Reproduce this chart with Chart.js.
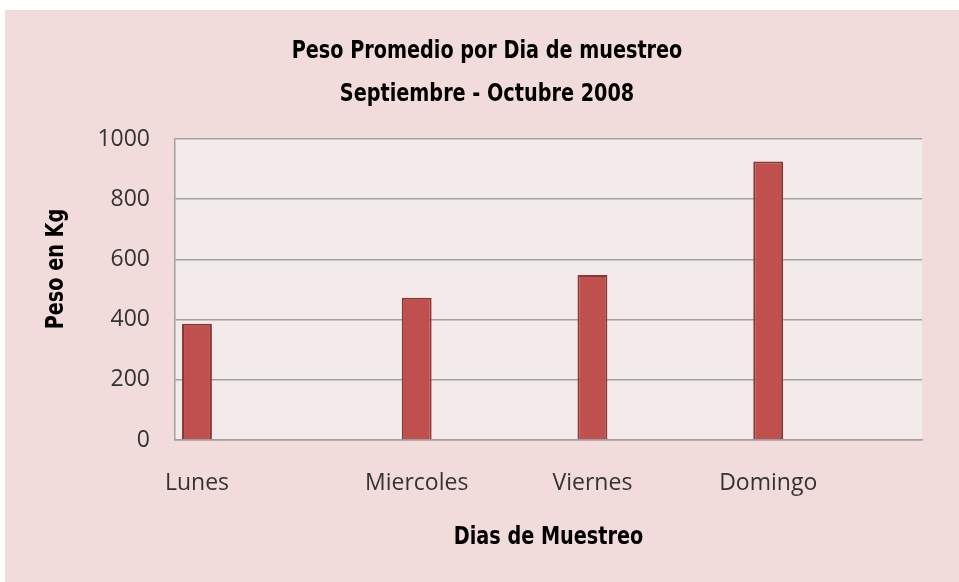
<!DOCTYPE html>
<html>
<head>
<meta charset="utf-8">
<script src="https://cdn.jsdelivr.net/npm/chart.js@4/dist/chart.umd.min.js"></script>
<style>
  html, body { margin: 0; padding: 0; background: #ffffff; }
  #wrap { position: absolute; left: 5px; top: 10px; width: 954px; height: 572px; background: #F2DCDB; }
  canvas { display: block; }
</style>
</head>
<body>
<div id="wrap"><canvas id="c" width="954" height="572"></canvas></div>
<script>
// ---- data ----
const categories = ["Lunes", "", "", "", "", "Miercoles", "", "", "", "Viernes", "", "", "", "Domingo", "", "", ""];
const pesos      = [386, null, null, null, null, 473, null, null, null, 548, null, null, null, 925, null, null, null];
const yTickValues = [0, 200, 400, 600, 800, 1000];
const titleLines = ["Peso Promedio por Dia de muestreo", "Septiembre - Octubre 2008"];
const xAxisTitle = "Dias de Muestreo";
const yAxisTitle = "Peso en Kg";

const condensed = "'DejaVu Sans Condensed', 'DejaVu Sans', sans-serif";
const bodyFont = "'Open Sans', 'Noto Sans', sans-serif";
const squeeze = 0.855;

const plotBg = {
  id: 'plotBg',
  beforeDraw(chart) {
    const {ctx, chartArea: a} = chart;
    ctx.save();
    ctx.fillStyle = '#F3EAEA';
    ctx.fillRect(a.left, a.top, a.right - a.left, a.bottom - a.top);
    ctx.restore();
  }
};

// narrow the bold titles horizontally, like the condensed face of the original
const narrowTitles = {
  id: 'narrowTitles',
  beforeDraw(chart) {
    const ctx = chart.ctx;
    const tb = chart.titleBlock;
    if (tb && !tb._narrowed) {
      const orig = tb.draw;
      tb.draw = function (area) {
        const cx = (this.left + this.right) / 2;
        ctx.save();
        ctx.translate(cx, 0); ctx.scale(squeeze, 1); ctx.translate(-cx, 0);
        orig.call(this, area);
        ctx.restore();
      };
      tb._narrowed = true;
    }
    const xs = chart.scales.x;
    if (xs && !xs._narrowed) {
      const origT = xs.drawTitle;
      xs.drawTitle = function () {
        const cx = (chart.chartArea.left + chart.chartArea.right) / 2;
        ctx.save();
        ctx.translate(cx, 0); ctx.scale(squeeze, 1); ctx.translate(-cx, 0);
        origT.call(this);
        ctx.restore();
      };
      xs._narrowed = true;
    }
  }
};

const yTitle = {
  id: 'yTitle',
  afterDraw(chart) {
    const {ctx} = chart;
    ctx.save();
    ctx.translate(51, 259);
    ctx.rotate(-Math.PI / 2);
    ctx.scale(squeeze, 1);
    ctx.font = "bold 25px " + condensed;
    ctx.fillStyle = '#000';
    ctx.textAlign = 'center';
    ctx.textBaseline = 'middle';
    ctx.fillText(yAxisTitle, 0, 0);
    ctx.restore();
  }
};

new Chart(document.getElementById('c'), {
  type: 'bar',
  data: {
    labels: categories,
    datasets: [{
      data: pesos,
      backgroundColor: '#C0504D',
      borderColor: '#8C3634',
      borderWidth: 2,
      barPercentage: 0.68,
      categoryPercentage: 1.0
    }]
  },
  options: {
    responsive: false,
    animation: false,
    layout: { padding: { left: 47, right: 37, top: 0, bottom: 0 } },
    plugins: {
      legend: { display: false },
      tooltip: { enabled: false },
      title: {
        display: true,
        text: titleLines,
        color: '#000',
        font: { family: condensed, weight: 'bold', size: 25, lineHeight: 1.72 },
        padding: { top: 19.5, bottom: 23.5 }
      }
    },
    scales: {
      x: {
        grid: { display: false, drawTicks: false },
        border: { display: true, color: '#A0A0A0', width: 1.5 },
        ticks: { color: '#333', font: { family: bodyFont, size: 23 }, padding: 30, autoSkip: false, maxRotation: 0, minRotation: 0 },
        title: { display: true, text: xAxisTitle, color: '#000', font: { family: condensed, weight: 'bold', size: 25 }, padding: { top: 0, bottom: 30 } },
        afterFit(s) { s.height = 142; }
      },
      y: {
        min: 0, max: 1000,
        afterBuildTicks(s) { s.ticks = yTickValues.map(v => ({ value: v })); },
        grid: { color: '#A0A0A0', lineWidth: 1.5, drawTicks: false },
        border: { display: true, color: '#A0A0A0', width: 1.5 },
        ticks: { color: '#333', font: { family: bodyFont, size: 23 }, padding: 25, callback: v => String(v) },
        afterFit(s) { s.width = 123; }
      }
    }
  },
  plugins: [plotBg, narrowTitles, yTitle]
});
</script>
</body>
</html>
